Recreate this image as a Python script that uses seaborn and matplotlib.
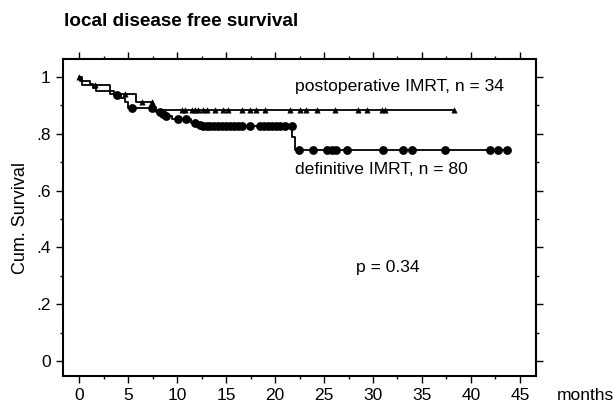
import matplotlib
matplotlib.use("Agg")
import matplotlib.pyplot as plt
import numpy as np
import seaborn as sns
from matplotlib.ticker import MultipleLocator, FixedLocator, FixedFormatter

# Kaplan-Meier steps (months, cumulative survival)
def_times = [0, 0.05, 1.1, 1.4, 1.75, 3.5, 4.3, 4.7, 5.0, 7.8, 8.35, 8.7, 9.5,
             11.4, 12.1, 12.45, 21.75, 22.0, 43.65]
def_surv = [1.0, 0.9875, 0.975, 0.9625, 0.95, 0.9375, 0.925, 0.9125, 0.89,
            0.878, 0.871, 0.864, 0.852, 0.839, 0.832, 0.826, 0.789, 0.743, 0.743]
def_censored = [3.8, 5.35, 7.45, 8.2, 8.5, 8.85, 10.1, 10.95, 11.8, 12.3,
                12.6, 13.0, 13.4, 13.8, 14.2, 14.6, 15.0, 15.4, 15.8, 16.2,
                16.6, 17.45, 18.5, 18.9, 19.3, 19.7, 20.1, 20.5, 21.0, 21.7,
                22.4, 23.9, 25.3, 25.8, 26.2, 27.3, 31.0, 33.1, 33.95, 37.35,
                41.95, 42.8, 43.65]

post_times = [0, 0.25, 3.1, 5.8, 7.5, 38.3]
post_surv = [1.0, 0.9706, 0.9412, 0.9118, 0.8824, 0.8824]
post_censored = [0.0, 1.6, 4.7, 6.4, 7.4, 10.45, 10.8, 11.5, 11.8, 12.15, 12.65,
                 13.0, 13.85, 14.7, 15.2, 16.6, 17.45, 18.1, 19.0, 21.5, 22.55,
                 23.2, 24.25, 26.1, 28.5, 29.35, 30.9, 31.2, 38.3]

y_ticks = [0, 0.2, 0.4, 0.6, 0.8, 1.0]
y_labels = ["0", ".2", ".4", ".6", ".8", "1"]
x_ticks = [0, 5, 10, 15, 20, 25, 30, 35, 40, 45]


def surv_at(times, step_t, step_s):
    idx = np.searchsorted(step_t, times, side="right") - 1
    return np.asarray(step_s)[idx]


sns.set_style("ticks")
plt.rcParams["font.family"] = ["Liberation Sans", "DejaVu Sans"]
plt.rcParams["text.color"] = "black"
plt.rcParams["axes.labelcolor"] = "black"

fig = plt.figure(figsize=(6.13, 4.12), dpi=100)
ax = fig.add_axes([63 / 613, 1 - 376 / 412, (536 - 63) / 613, (376 - 59) / 412])

# survival curves
sns.lineplot(x=post_times, y=post_surv, drawstyle="steps-post", color="black",
             linewidth=1.3, estimator=None, sort=False, ax=ax)
sns.lineplot(x=def_times, y=def_surv, drawstyle="steps-post", color="black",
             linewidth=1.3, estimator=None, sort=False, ax=ax)

# censoring marks
sns.scatterplot(x=post_censored, y=surv_at(post_censored, post_times, post_surv),
                marker="^", s=14, color="black", edgecolor="black", linewidth=0.5,
                zorder=3, ax=ax)
sns.scatterplot(x=def_censored, y=surv_at(def_censored, def_times, def_surv),
                marker="o", s=40, color="black", edgecolor="black", linewidth=0,
                zorder=3, ax=ax)

ax.set_xlim(-1.665, 46.65)
ax.set_ylim(-0.0528, 1.0634)

ax.xaxis.set_major_locator(FixedLocator(x_ticks))
ax.xaxis.set_minor_locator(MultipleLocator(2.5))
ax.yaxis.set_major_locator(FixedLocator(y_ticks))
ax.yaxis.set_major_formatter(FixedFormatter(y_labels))
ax.yaxis.set_minor_locator(MultipleLocator(0.1))

ax.tick_params(which="both", direction="out", top=True, right=True,
               labeltop=False, labelright=False, width=1, color="black",
               labelsize=12.5, labelcolor="black")
ax.tick_params(which="major", length=5, pad=4)
ax.tick_params(which="minor", length=2.5)

for sp in ax.spines.values():
    sp.set_linewidth(1.5)
    sp.set_color("black")

ax.set_xlabel("")
ax.set_ylabel("Cum. Survival", fontsize=13, labelpad=5)

ax.text(22.0, 0.967, "postoperative IMRT, n = 34", fontsize=12.6, va="center")
ax.text(22.0, 0.673, "definitive IMRT, n = 80", fontsize=12.6, va="center")
ax.text(28.3, 0.331, "p = 0.34", fontsize=12.6, va="center")

fig.text(64 / 613, 1 - 21 / 412, "local disease free survival", fontsize=13.6,
         fontweight="bold", va="center", ha="left")
fig.text(557 / 613, 1 - 396 / 412, "months", fontsize=12.5, va="center", ha="left")

fig.savefig("out.png", dpi=100)
